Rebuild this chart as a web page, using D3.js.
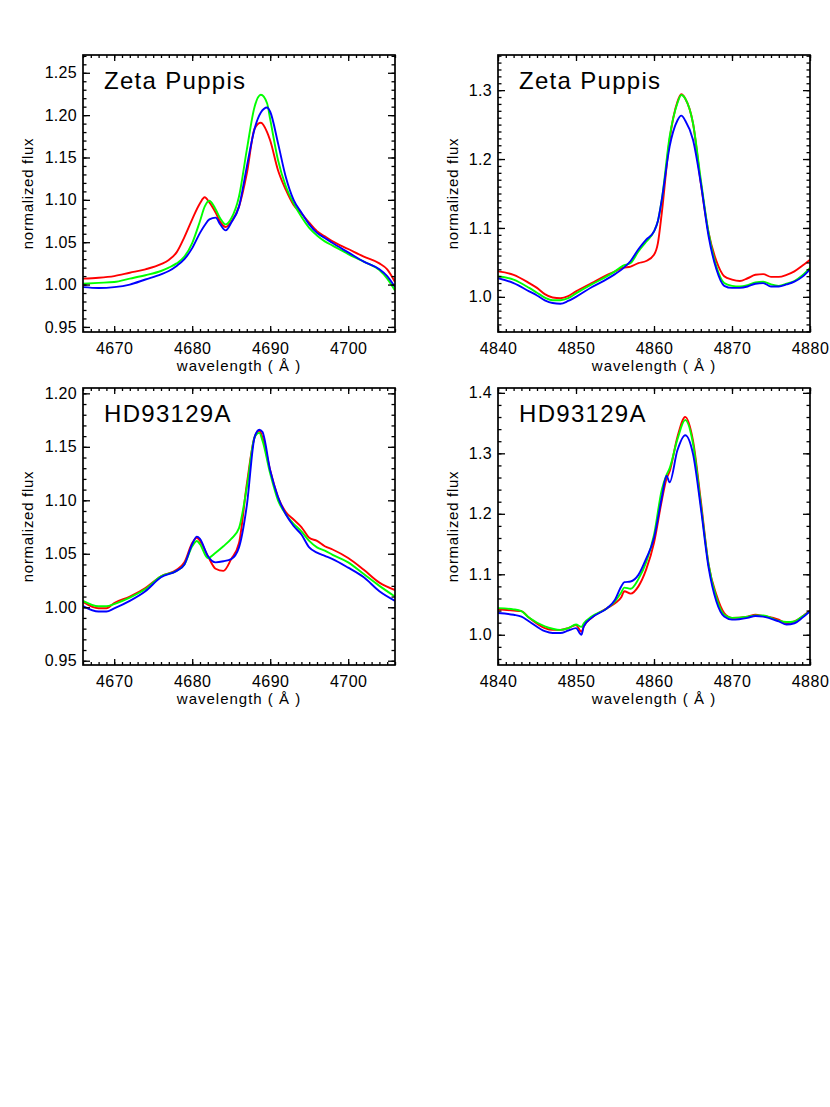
<!DOCTYPE html>
<html>
<head>
<meta charset="utf-8">
<script src="https://cdn.jsdelivr.net/npm/d3@7"></script>
<style>
body { margin: 0; background: #fff; }
text { font-family: "Liberation Sans", Arial, sans-serif; fill: #000; }
.axis .domain { display: none; }
.axis line { stroke: #000; stroke-width: 1.3; }
</style>
</head>
<body>
<svg id="chart" width="830" height="1107"></svg>
<script>
// He II 4686 region, Zeta Puppis
const waveHeZP = [4666, 4668, 4670, 4672, 4674, 4676, 4677, 4678, 4679, 4680, 4681, 4681.6, 4682.2, 4683, 4683.6, 4684.3, 4685, 4686, 4687, 4688, 4688.8, 4689.6, 4690, 4691, 4692, 4693, 4694, 4695, 4696, 4697, 4698, 4700, 4702, 4704, 4705, 4706];
const redHeZP   = [1.007, 1.008, 1.010, 1.014, 1.018, 1.024, 1.029, 1.038, 1.056, 1.077, 1.096, 1.103, 1.097, 1.085, 1.074, 1.068, 1.074, 1.092, 1.131, 1.184, 1.191, 1.180, 1.170, 1.135, 1.112, 1.094, 1.084, 1.073, 1.063, 1.057, 1.051, 1.042, 1.033, 1.025, 1.018, 1.003];
const greenHeZP = [1.001, 1.002, 1.003, 1.007, 1.011, 1.016, 1.020, 1.025, 1.033, 1.049, 1.075, 1.092, 1.099, 1.089, 1.078, 1.071, 1.078, 1.104, 1.159, 1.210, 1.224, 1.214, 1.195, 1.147, 1.116, 1.096, 1.080, 1.067, 1.058, 1.051, 1.046, 1.036, 1.027, 1.017, 1.007, 0.993];
const blueHeZP  = [0.997, 0.996, 0.997, 1.000, 1.006, 1.012, 1.016, 1.022, 1.030, 1.043, 1.061, 1.070, 1.077, 1.079, 1.071, 1.064, 1.073, 1.092, 1.139, 1.184, 1.203, 1.209, 1.204, 1.167, 1.127, 1.100, 1.085, 1.071, 1.061, 1.055, 1.049, 1.038, 1.027, 1.018, 1.010, 0.997];

// H beta region, Zeta Puppis
const waveHbZP = [4840, 4842, 4844, 4845, 4846, 4847, 4848, 4849, 4850, 4852, 4854, 4855, 4856, 4857, 4858, 4859, 4860, 4860.5, 4861, 4862, 4863, 4863.5, 4864, 4865, 4866, 4867, 4868, 4869, 4870, 4871, 4872, 4873, 4874, 4875, 4876, 4877, 4878, 4879, 4880];
const redHbZP   = [1.037, 1.032, 1.020, 1.013, 1.004, 0.999, 0.998, 1.001, 1.008, 1.020, 1.032, 1.037, 1.042, 1.044, 1.049, 1.052, 1.061, 1.078, 1.122, 1.228, 1.283, 1.294, 1.288, 1.252, 1.165, 1.093, 1.052, 1.030, 1.025, 1.023, 1.027, 1.032, 1.033, 1.029, 1.029, 1.032, 1.037, 1.045, 1.054];
const greenHbZP = [1.030, 1.025, 1.013, 1.006, 0.999, 0.995, 0.995, 0.998, 1.005, 1.018, 1.030, 1.037, 1.045, 1.049, 1.066, 1.080, 1.095, 1.110, 1.141, 1.232, 1.281, 1.293, 1.288, 1.252, 1.170, 1.093, 1.044, 1.020, 1.016, 1.015, 1.017, 1.021, 1.022, 1.018, 1.016, 1.019, 1.023, 1.031, 1.042];
const blueHbZP  = [1.027, 1.020, 1.008, 1.002, 0.995, 0.991, 0.990, 0.994, 1.000, 1.014, 1.026, 1.033, 1.041, 1.052, 1.069, 1.083, 1.095, 1.110, 1.141, 1.218, 1.256, 1.263, 1.256, 1.228, 1.165, 1.088, 1.040, 1.016, 1.013, 1.013, 1.015, 1.019, 1.020, 1.015, 1.015, 1.018, 1.022, 1.029, 1.040];

// He II 4686 region, HD93129A
const waveHeHD = [4666, 4668, 4669, 4670, 4672, 4674, 4676, 4678, 4679, 4680, 4680.6, 4681, 4682, 4683, 4684, 4685, 4686, 4687, 4688, 4688.6, 4689, 4690, 4691, 4692, 4693, 4694, 4695, 4696, 4697, 4698, 4700, 4702, 4704, 4706];
const redHeHD   = [1.005, 0.999, 0.999, 1.004, 1.010, 1.018, 1.029, 1.035, 1.042, 1.060, 1.065, 1.062, 1.048, 1.036, 1.034, 1.045, 1.060, 1.115, 1.159, 1.165, 1.159, 1.128, 1.103, 1.089, 1.082, 1.075, 1.065, 1.062, 1.057, 1.054, 1.046, 1.035, 1.023, 1.016];
const greenHeHD = [1.006, 1.001, 1.001, 1.003, 1.009, 1.017, 1.029, 1.034, 1.040, 1.057, 1.062, 1.059, 1.046, 1.051, 1.057, 1.064, 1.074, 1.112, 1.159, 1.163, 1.156, 1.125, 1.100, 1.087, 1.078, 1.071, 1.062, 1.056, 1.053, 1.049, 1.042, 1.031, 1.020, 1.010];
const blueHeHD  = [1.001, 0.996, 0.996, 0.999, 1.006, 1.015, 1.028, 1.034, 1.040, 1.059, 1.066, 1.064, 1.048, 1.042, 1.043, 1.045, 1.056, 1.095, 1.159, 1.166, 1.164, 1.128, 1.103, 1.087, 1.076, 1.068, 1.056, 1.051, 1.048, 1.045, 1.037, 1.028, 1.015, 1.006];

// H beta region, HD93129A
const waveHbHD = [4840, 4842, 4843, 4844, 4846, 4847, 4848, 4849, 4850, 4850.7, 4851, 4852, 4854, 4855, 4855.8, 4856.2, 4857, 4858, 4859, 4860, 4861, 4861.6, 4862, 4863, 4864, 4865, 4866, 4867, 4868, 4869, 4870, 4872, 4873, 4874, 4876, 4877, 4878, 4879, 4880];
const redHbHD   = [1.042, 1.040, 1.039, 1.028, 1.011, 1.008, 1.008, 1.011, 1.016, 1.005, 1.014, 1.028, 1.044, 1.052, 1.062, 1.072, 1.068, 1.080, 1.108, 1.152, 1.222, 1.258, 1.270, 1.327, 1.360, 1.321, 1.222, 1.116, 1.066, 1.036, 1.028, 1.030, 1.033, 1.031, 1.025, 1.019, 1.022, 1.030, 1.040];
const greenHbHD = [1.044, 1.042, 1.039, 1.028, 1.014, 1.010, 1.008, 1.011, 1.017, 1.013, 1.019, 1.030, 1.044, 1.055, 1.070, 1.078, 1.076, 1.092, 1.120, 1.165, 1.240, 1.264, 1.275, 1.323, 1.355, 1.316, 1.216, 1.116, 1.061, 1.033, 1.028, 1.030, 1.032, 1.032, 1.023, 1.021, 1.022, 1.030, 1.039];
const blueHbHD  = [1.036, 1.033, 1.030, 1.022, 1.006, 1.003, 1.003, 1.007, 1.011, 1.000, 1.014, 1.028, 1.044, 1.058, 1.080, 1.087, 1.088, 1.099, 1.126, 1.160, 1.227, 1.263, 1.252, 1.305, 1.330, 1.299, 1.210, 1.111, 1.055, 1.030, 1.025, 1.028, 1.031, 1.030, 1.022, 1.017, 1.019, 1.028, 1.039];

// tick labels
const xTicksHe = [4670, 4680, 4690, 4700];
const xTicksHb = [4840, 4850, 4860, 4870, 4880];
const yTicksHeZP = [0.95, 1.00, 1.05, 1.10, 1.15, 1.20, 1.25];
const yTicksHbZP = [1.0, 1.1, 1.2, 1.3];
const yTicksHeHD = [0.95, 1.00, 1.05, 1.10, 1.15, 1.20];
const yTicksHbHD = [1.0, 1.1, 1.2, 1.3, 1.4];

const colors = ["#ff0000", "#00ff00", "#0000ff"];

const panels = [
  { star: "Zeta Puppis", left: 83,  top: 55,  xDom: [4666, 4706], yDom: [0.944, 1.271], xTicks: xTicksHe, yTicks: yTicksHeZP, yMinor: 0.01, fmt: ".2f", wave: waveHeZP, series: [redHeZP, greenHeZP, blueHeZP] },
  { star: "Zeta Puppis", left: 498, top: 55,  xDom: [4840, 4880], yDom: [0.949, 1.351], xTicks: xTicksHb, yTicks: yTicksHbZP, yMinor: 0.01, fmt: ".1f", wave: waveHbZP, series: [redHbZP, greenHbZP, blueHbZP] },
  { star: "HD93129A",    left: 83,  top: 388, xDom: [4666, 4706], yDom: [0.946, 1.205], xTicks: xTicksHe, yTicks: yTicksHeHD, yMinor: 0.01, fmt: ".2f", wave: waveHeHD, series: [redHeHD, greenHeHD, blueHeHD] },
  { star: "HD93129A",    left: 498, top: 388, xDom: [4840, 4880], yDom: [0.950, 1.408], xTicks: xTicksHb, yTicks: yTicksHbHD, yMinor: 0.02, fmt: ".1f", wave: waveHbHD, series: [redHbHD, greenHbHD, blueHbHD] }
];

const W = 312, H = 277;
const svg = d3.select("#chart");

panels.forEach((p, pi) => {
  const g = svg.append("g").attr("transform", "translate(" + p.left + "," + p.top + ")");
  const x = d3.scaleLinear().domain(p.xDom).range([0, W]);
  const y = d3.scaleLinear().domain(p.yDom).range([H, 0]);

  const xMinor = d3.range(Math.ceil(p.xDom[0]), p.xDom[1] + 0.001, 1);
  const yMinor = d3.range(Math.ceil(p.yDom[0] / p.yMinor) * p.yMinor, p.yDom[1], p.yMinor);

  g.append("clipPath").attr("id", "clip" + pi)
    .append("rect").attr("width", W).attr("height", H);

  // spectra
  const line = d3.line()
    .x((d, i) => x(p.wave[i]))
    .y(d => y(d))
    .curve(d3.curveMonotoneX);
  g.append("g").attr("clip-path", "url(#clip" + pi + ")")
    .selectAll("path")
    .data(p.series)
    .join("path")
    .attr("d", line)
    .attr("fill", "none")
    .attr("stroke", (d, i) => colors[i])
    .attr("stroke-width", 1.9)
    .attr("stroke-linejoin", "round");

  // ticks, inward on all four sides
  g.append("g").attr("class", "axis").attr("transform", "translate(0," + H + ")")
    .call(d3.axisBottom(x).tickValues(xMinor).tickSize(-3).tickFormat(""));
  g.append("g").attr("class", "axis").attr("transform", "translate(0," + H + ")")
    .call(d3.axisBottom(x).tickValues(p.xTicks).tickSize(-6).tickPadding(11).tickFormat(d3.format("d")))
    .selectAll("text").style("font-size", "16px").style("letter-spacing", "0.5px");
  g.append("g").attr("class", "axis")
    .call(d3.axisTop(x).tickValues(xMinor).tickSize(-3).tickFormat(""));
  g.append("g").attr("class", "axis")
    .call(d3.axisTop(x).tickValues(p.xTicks).tickSize(-6).tickFormat(""));

  g.append("g").attr("class", "axis")
    .call(d3.axisLeft(y).tickValues(yMinor).tickSize(-3.5).tickFormat(""));
  g.append("g").attr("class", "axis")
    .call(d3.axisLeft(y).tickValues(p.yTicks).tickSize(-7).tickPadding(6).tickFormat(d3.format(p.fmt)))
    .selectAll("text").style("font-size", "16px").style("letter-spacing", "0.3px");
  g.append("g").attr("class", "axis").attr("transform", "translate(" + W + ",0)")
    .call(d3.axisRight(y).tickValues(yMinor).tickSize(-3.5).tickFormat(""));
  g.append("g").attr("class", "axis").attr("transform", "translate(" + W + ",0)")
    .call(d3.axisRight(y).tickValues(p.yTicks).tickSize(-7).tickFormat(""));

  // frame
  g.append("rect").attr("width", W).attr("height", H)
    .attr("fill", "none").attr("stroke", "#000").attr("stroke-width", 1.7);

  // star name
  g.append("text").attr("x", 21).attr("y", 34)
    .style("font-size", "24px").style("letter-spacing", "1.3px")
    .text(p.star);

  // axis titles
  g.append("text").attr("x", W / 2).attr("y", H + 39)
    .attr("text-anchor", "middle")
    .style("font-size", "15px").style("letter-spacing", "1px")
    .text("wavelength ( Å )");
  const yl = pi % 2 === 0 ? -50 : -40;
  g.append("text")
    .attr("transform", "translate(" + yl + "," + (H / 2) + ") rotate(-90)")
    .attr("text-anchor", "middle")
    .style("font-size", "15px").style("letter-spacing", "0.7px")
    .text("normalized flux");
});
</script>
</body>
</html>
